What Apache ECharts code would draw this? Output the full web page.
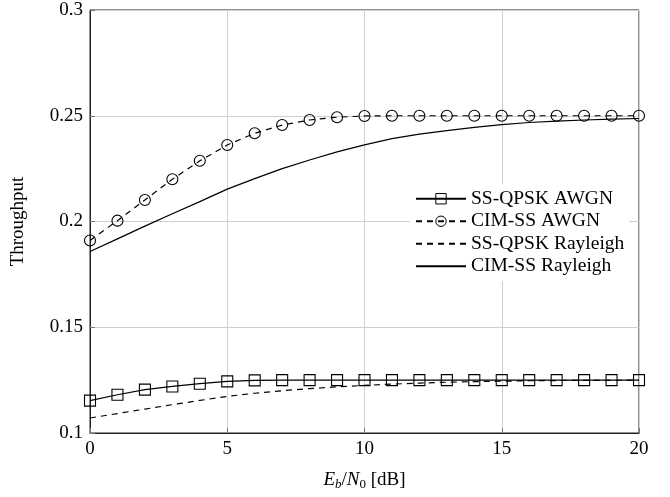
<!DOCTYPE html>
<html>
<head>
<meta charset="utf-8">
<script src="https://cdn.jsdelivr.net/npm/echarts@6/dist/echarts.min.js"></script>
<style>
  html, body { margin: 0; padding: 0; background: #fff; }
  #chart { width: 670px; height: 497px; }
</style>
</head>
<body>
<div id="chart"></div>
<script>
// Eb/N0 in dB
const ebn0 = [0, 1, 2, 3, 4, 5, 6, 7, 8, 9, 10, 11, 12, 13, 14, 15, 16, 17, 18, 19, 20];

const ssQpskAwgn = [0.1153, 0.1181, 0.1205, 0.1220, 0.1233, 0.1244, 0.1249, 0.125, 0.125, 0.125, 0.125,
  0.125, 0.125, 0.125, 0.125, 0.125, 0.125, 0.125, 0.125, 0.125, 0.125];
const cimSsAwgn = [0.191, 0.2004, 0.2102, 0.220, 0.2287, 0.2362, 0.2417, 0.2456, 0.248, 0.2493, 0.2499,
  0.25, 0.25, 0.25, 0.25, 0.25, 0.25, 0.25, 0.25, 0.25, 0.25];
const ssQpskRayleigh = [0.1071, 0.1092, 0.1113, 0.1134, 0.1154, 0.1173, 0.1188, 0.1200, 0.1210, 0.1218, 0.1225,
  0.1231, 0.1236, 0.1240, 0.1243, 0.1245, 0.1247, 0.1248, 0.1249, 0.1249, 0.125];
const cimSsRayleigh = [0.1858, 0.1918, 0.1978, 0.2037, 0.2094, 0.2153, 0.2203, 0.2250, 0.2291, 0.2329, 0.2362,
  0.2392, 0.2413, 0.2430, 0.2445, 0.2458, 0.2468, 0.2475, 0.2480, 0.2484, 0.2487];

const seriesNames = ['SS-QPSK AWGN', 'CIM-SS AWGN', 'SS-QPSK Rayleigh', 'CIM-SS Rayleigh'];

const font = 'Liberation Serif';

function pairs(ys) {
  return ebn0.map((x, i) => [x, ys[i]]);
}

const chart = echarts.init(document.getElementById('chart'));

// rayleigh curves have no markers, so hide the dot echarts puts in the legend icon
const noMark = { color: 'rgba(0,0,0,0)', borderWidth: 0 };
const thinMark = { color: 'rgba(0,0,0,0)', borderColor: '#000', borderWidth: 1 };

const option = {
  animation: false,
  backgroundColor: '#fff',
  textStyle: { fontFamily: font },
  grid: {
    left: 90, right: 31, top: 10, bottom: 64,
    show: true, borderColor: '#222', borderWidth: 1
  },
  legend: {
    orient: 'vertical',
    left: 410, top: 184,
    padding: [4, 5],
    backgroundColor: '#fff',
    itemWidth: 50, itemHeight: 13, itemGap: 1,
    textStyle: { fontFamily: font, fontSize: 19.5, color: '#000', lineHeight: 21.5 },
    data: [
      { name: seriesNames[0], itemStyle: thinMark },
      { name: seriesNames[1], itemStyle: thinMark },
      { name: seriesNames[2], itemStyle: noMark },
      { name: seriesNames[3], itemStyle: noMark }
    ]
  },
  xAxis: {
    type: 'value',
    min: 0, max: 20, interval: 5,
    name: '{i|E}{s|b}{n|/}{i|N}{z|0}{n| [dB]}',
    nameLocation: 'middle',
    nameGap: 36,
    nameTextStyle: {
      rich: {
        i: { fontFamily: font, fontStyle: 'italic', fontSize: 19, color: '#000', lineHeight: 22, verticalAlign: 'middle' },
        n: { fontFamily: font, fontSize: 19, color: '#000', lineHeight: 22, verticalAlign: 'middle' },
        s: { fontFamily: font, fontStyle: 'italic', fontSize: 13, color: '#000', lineHeight: 13, verticalAlign: 'bottom' },
        z: { fontFamily: font, fontSize: 13, color: '#000', lineHeight: 13, verticalAlign: 'bottom' }
      }
    },
    axisLine: { lineStyle: { color: '#222', width: 1 } },
    axisTick: { inside: true, length: 5, lineStyle: { color: '#777' } },
    axisLabel: { fontFamily: font, fontSize: 19, color: '#000', margin: 7 },
    splitLine: { lineStyle: { color: '#cfcfcf', width: 1 } }
  },
  yAxis: {
    type: 'value',
    min: 0.1, max: 0.3, interval: 0.05,
    name: 'Throughput',
    nameLocation: 'middle',
    nameRotate: 90,
    nameGap: 62,
    nameTextStyle: { fontFamily: font, fontSize: 19, color: '#000' },
    axisLine: { show: true, lineStyle: { color: '#222', width: 1 } },
    axisTick: { show: true, inside: true, length: 5, lineStyle: { color: '#777' } },
    axisLabel: {
      fontFamily: font, fontSize: 19, color: '#000', margin: 7,
      formatter: v => String(parseFloat(v.toFixed(2)))
    },
    splitLine: { lineStyle: { color: '#cfcfcf', width: 1 } }
  },
  series: [
    {
      name: seriesNames[0],
      type: 'line',
      data: pairs(ssQpskAwgn),
      symbol: 'rect',
      symbolSize: 11,
      itemStyle: { color: 'rgba(0,0,0,0)', borderColor: '#000', borderWidth: 1.1 },
      lineStyle: { color: '#000', width: 1.2, type: 'solid' },
      z: 4
    },
    {
      name: seriesNames[1],
      type: 'line',
      data: pairs(cimSsAwgn),
      symbol: 'circle',
      symbolSize: 11,
      itemStyle: { color: 'rgba(0,0,0,0)', borderColor: '#000', borderWidth: 1.1 },
      lineStyle: { color: '#000', width: 1.2, type: [6, 5] },
      z: 4
    },
    {
      name: seriesNames[2],
      type: 'line',
      data: pairs(ssQpskRayleigh),
      symbol: 'none',
      itemStyle: { color: '#000' },
      lineStyle: { color: '#000', width: 1.2, type: [6, 5] },
      z: 3
    },
    {
      name: seriesNames[3],
      type: 'line',
      data: pairs(cimSsRayleigh),
      symbol: 'none',
      itemStyle: { color: '#000' },
      lineStyle: { color: '#000', width: 1.2, type: 'solid' },
      z: 3
    }
  ]
};

chart.setOption(option);
</script>
</body>
</html>
